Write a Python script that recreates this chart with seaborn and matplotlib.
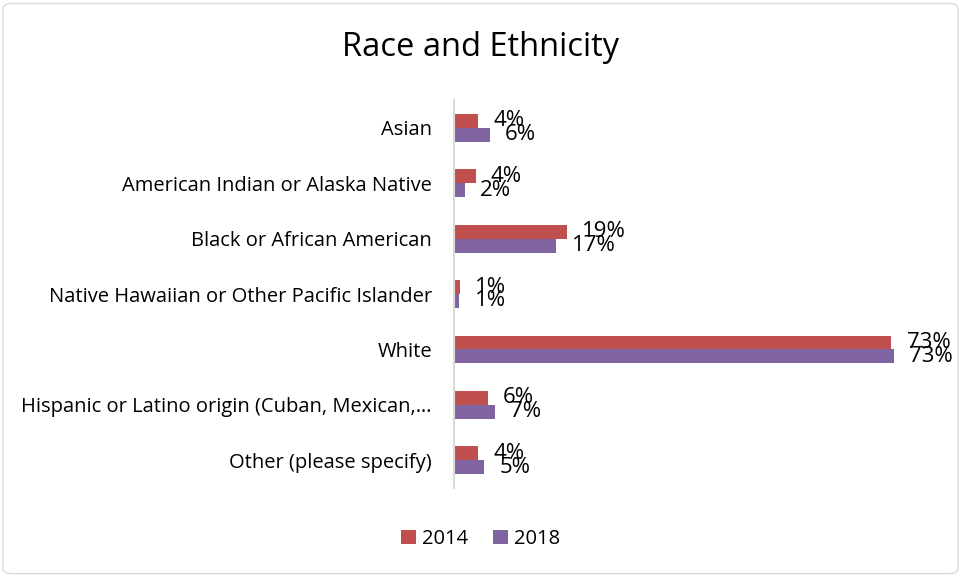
import pandas as pd
import seaborn as sns
import matplotlib.pyplot as plt
from matplotlib.patches import FancyBboxPatch

categories = [
    "Asian",
    "American Indian or Alaska Native",
    "Black or African American",
    "Native Hawaiian or Other Pacific Islander",
    "White",
    "Hispanic or Latino origin (Cuban, Mexican,\u2026",
    "Other (please specify)",
]
years = ["2014", "2018"]
values_2014 = [4.0, 3.6, 18.8, 1.0, 72.8, 5.6, 4.0]
values_2018 = [5.9, 1.8, 17.0, 0.9, 73.2, 6.8, 5.0]
colors = ["#C0504D", "#8064A2"]

df = pd.DataFrame({
    "category": categories * 2,
    "year": [years[0]] * len(categories) + [years[1]] * len(categories),
    "value": values_2014 + values_2018,
})

sns.set_style("white")
plt.rcParams["font.family"] = ["Open Sans", "DejaVu Sans"]
plt.rcParams["text.color"] = "black"
plt.rcParams["ytick.color"] = "black"

fig = plt.figure(figsize=(9.61, 5.76), dpi=100)
ax = fig.add_axes([0.4725, 0.153, 0.50, 0.673])

sns.barplot(data=df, x="value", y="category", hue="year", order=categories,
            hue_order=years, palette=colors, saturation=1, width=0.5,
            orient="h", linewidth=0, ax=ax)

for cont in ax.containers:
    labels = [f"{b.get_width():.0f}%" for b in cont]
    ax.bar_label(cont, labels=labels, padding=11, fontsize=16, color="black")

ax.set_xlim(0, 80)
ax.set_ylim(6.5, -0.5)
ax.set_xlabel("")
ax.set_ylabel("")
ax.set_xticks([])
ax.tick_params(axis="y", length=0, pad=16, labelsize=14.5, labelcolor="black")
for s in ["top", "right", "bottom"]:
    ax.spines[s].set_visible(False)
ax.spines["left"].set_color("#D9D9D9")
ax.spines["left"].set_linewidth(1.5)

handles, labs = ax.get_legend_handles_labels()
ax.legend(handles, labs, loc="center", bbox_to_anchor=(0.5, 0.064),
          bbox_transform=fig.transFigure, ncol=2, frameon=False,
          fontsize=14.5, handlelength=0.75, handleheight=0.75,
          handletextpad=0.3, columnspacing=1.2)

fig.text(0.5, 0.917, "Race and Ethnicity", ha="center", va="center",
         fontsize=23.5, color="black")

fig.patches.append(FancyBboxPatch((0.003, 0.004), 0.994, 0.99,
                                  boxstyle="round,pad=0,rounding_size=0.01",
                                  transform=fig.transFigure, fill=False,
                                  edgecolor="#D9D9D9", linewidth=1))

fig.savefig("out.png", dpi=100)
